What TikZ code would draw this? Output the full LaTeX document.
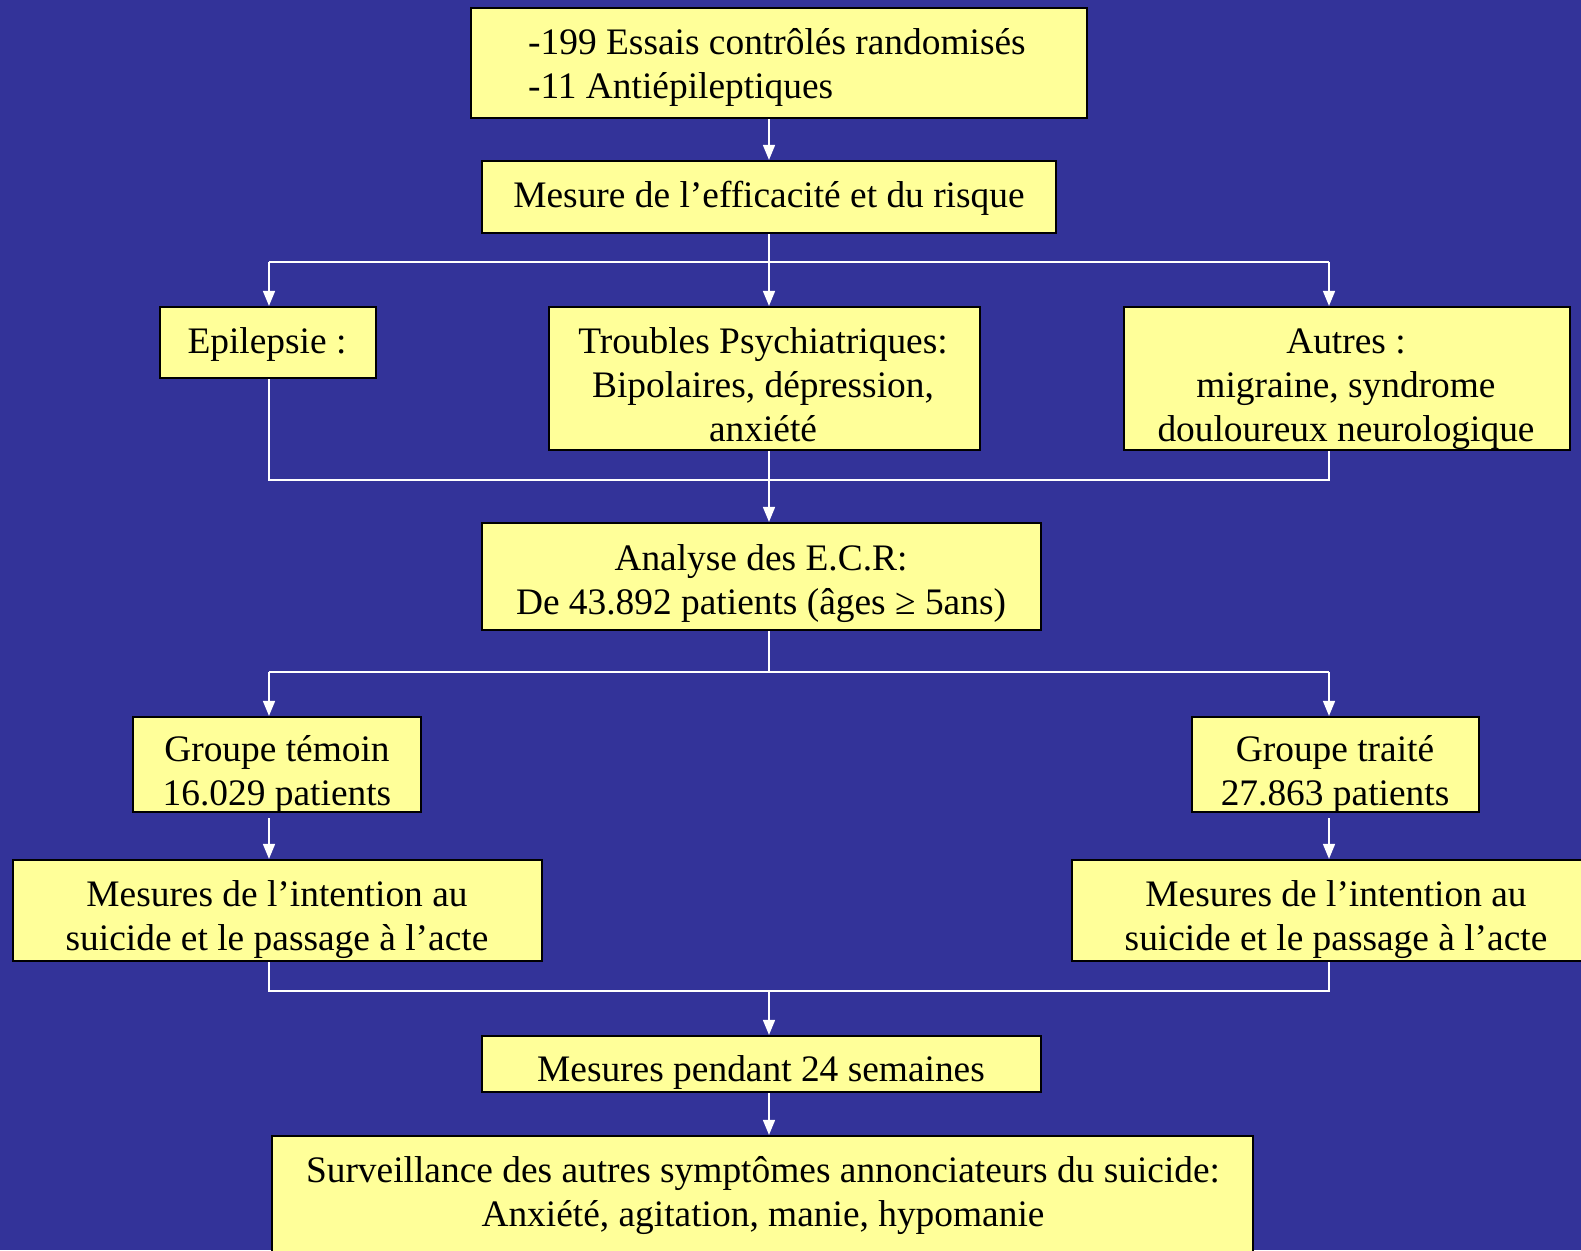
\documentclass[tikz,border=0pt]{standalone}
\usepackage{fontspec}
\setmainfont{Liberation Serif}
\usetikzlibrary{arrows.meta}
\definecolor{bgblue}{HTML}{333399}
\definecolor{boxyel}{HTML}{FFFF99}
\tikzset{
  box/.style={draw=black, line width=2.2pt, fill=boxyel, inner sep=0pt},
  txt/.style={font=\fontsize{37.4}{44}\selectfont, text=black, inner sep=0pt, align=center},
  conn/.style={draw=white, line width=1.6pt},
  arr/.style={conn, -{Triangle[width=12pt,length=15pt]}, white},
}
\begin{document}
\begin{tikzpicture}[x=1pt,y=-1pt]
\useasboundingbox (0,0) rectangle (1581,1250);
\clip (0,0) rectangle (1581,1250);
\fill[bgblue] (0,0) rectangle (1581,1250);
% boxes
\node[box, minimum width=616, minimum height=110] (b1) at (779,63) {};
\node[box, minimum width=574, minimum height=72] (b2) at (769,197) {};
\node[box, minimum width=216, minimum height=71] (epi) at (268,342.5) {};
\node[box, minimum width=431, minimum height=143] (psy) at (764.5,378.5) {};
\node[box, minimum width=446, minimum height=143] (aut) at (1347,378.5) {};
\node[box, minimum width=559, minimum height=107] (ana) at (761.5,576.5) {};
\node[box, minimum width=288, minimum height=95] (tem) at (277,764.5) {};
\node[box, minimum width=287, minimum height=95] (tra) at (1335.5,764.5) {};
\node[box, minimum width=529, minimum height=101] (mesL) at (277.5,910.5) {};
\node[box, minimum width=528, minimum height=101] (mesR) at (1336,910.5) {};
\node[box, minimum width=559, minimum height=56] (pen) at (761.5,1064) {};
\node[box, minimum width=981, minimum height=134] (sur) at (762.5,1203) {};
% texts (base anchor = baseline of the last line)
\node[txt, anchor=base west, align=left] (t1) at (528,98) {-199 Essais contrôlés randomisés\\-11 Antiépileptiques};
\node[txt, anchor=base] (t2) at (769,207) {Mesure de l’efficacité et du risque};
\node[txt, anchor=base] (tepi) at (267,353) {Epilepsie :};
\node[txt, anchor=base] (tpsy) at (763,441) {Troubles Psychiatriques:\\Bipolaires, dépression,\\anxiété};
\node[txt, anchor=base] (taut) at (1346,441) {Autres :\\migraine, syndrome\\douloureux neurologique};
\node[txt, anchor=base] (tana) at (761,614) {Analyse des E.C.R:\\De 43.892 patients (âges ≥ 5ans)};
\node[txt, anchor=base] (ttem) at (277,805) {Groupe témoin\\16.029 patients};
\node[txt, anchor=base] (ttra) at (1335,805) {Groupe traité\\27.863 patients};
\node[txt, anchor=base] (tmesL) at (277,950) {Mesures de l’intention au\\suicide et le passage à l’acte};
\node[txt, anchor=base] (tmesR) at (1336,950) {Mesures de l’intention au\\suicide et le passage à l’acte};
\node[txt, anchor=base] (tpen) at (761,1081) {Mesures pendant 24 semaines};
\node[txt, anchor=base] (tsur) at (763,1226) {Surveillance des autres symptômes annonciateurs du suicide:\\Anxiété, agitation, manie, hypomanie};
% junction coordinates
\coordinate (j1) at (769,262);
\coordinate (j1l) at (269,262);
\coordinate (j1r) at (1329,262);
\coordinate (j2) at (769,480);
\coordinate (j2l) at (269,480);
\coordinate (j2r) at (1329,480);
\coordinate (j3) at (769,672);
\coordinate (j3l) at (269,672);
\coordinate (j3r) at (1329,672);
\coordinate (j4) at (769,991);
\coordinate (j4l) at (269,991);
\coordinate (j4r) at (1329,991);
% connectors
\draw[arr] (b2.north |- b1.south) -- (b2.north);
\draw[conn] (b2.south) -- (j1);
\draw[conn] (j1l) -- (j1r);
\draw[arr] (j1) -- (j1 |- psy.north);
\draw[arr] (j1l) -- (j1l |- epi.north);
\draw[arr] (j1r) -- (j1r |- aut.north);
\draw[conn] (j2l |- epi.south) -- (j2l) -- (j2r) -- (j2r |- aut.south);
\draw[arr] (j2 |- psy.south) -- (j2 |- ana.north);
\draw[conn] (j3 |- ana.south) -- (j3);
\draw[conn] (j3l) -- (j3r);
\draw[arr] (j3l) -- (j3l |- tem.north);
\draw[arr] (j3r) -- (j3r |- tra.north);
\draw[arr] ([yshift=-5pt]j3l |- tem.south) -- (j3l |- mesL.north);
\draw[arr] ([yshift=-5pt]j3r |- tra.south) -- (j3r |- mesR.north);
\draw[conn] (j4l |- mesL.south) -- (j4l) -- (j4r) -- (j4r |- mesR.south);
\draw[arr] (j4) -- (j4 |- pen.north);
\draw[arr] (j4 |- pen.south) -- (j4 |- sur.north);
\end{tikzpicture}
\end{document}
